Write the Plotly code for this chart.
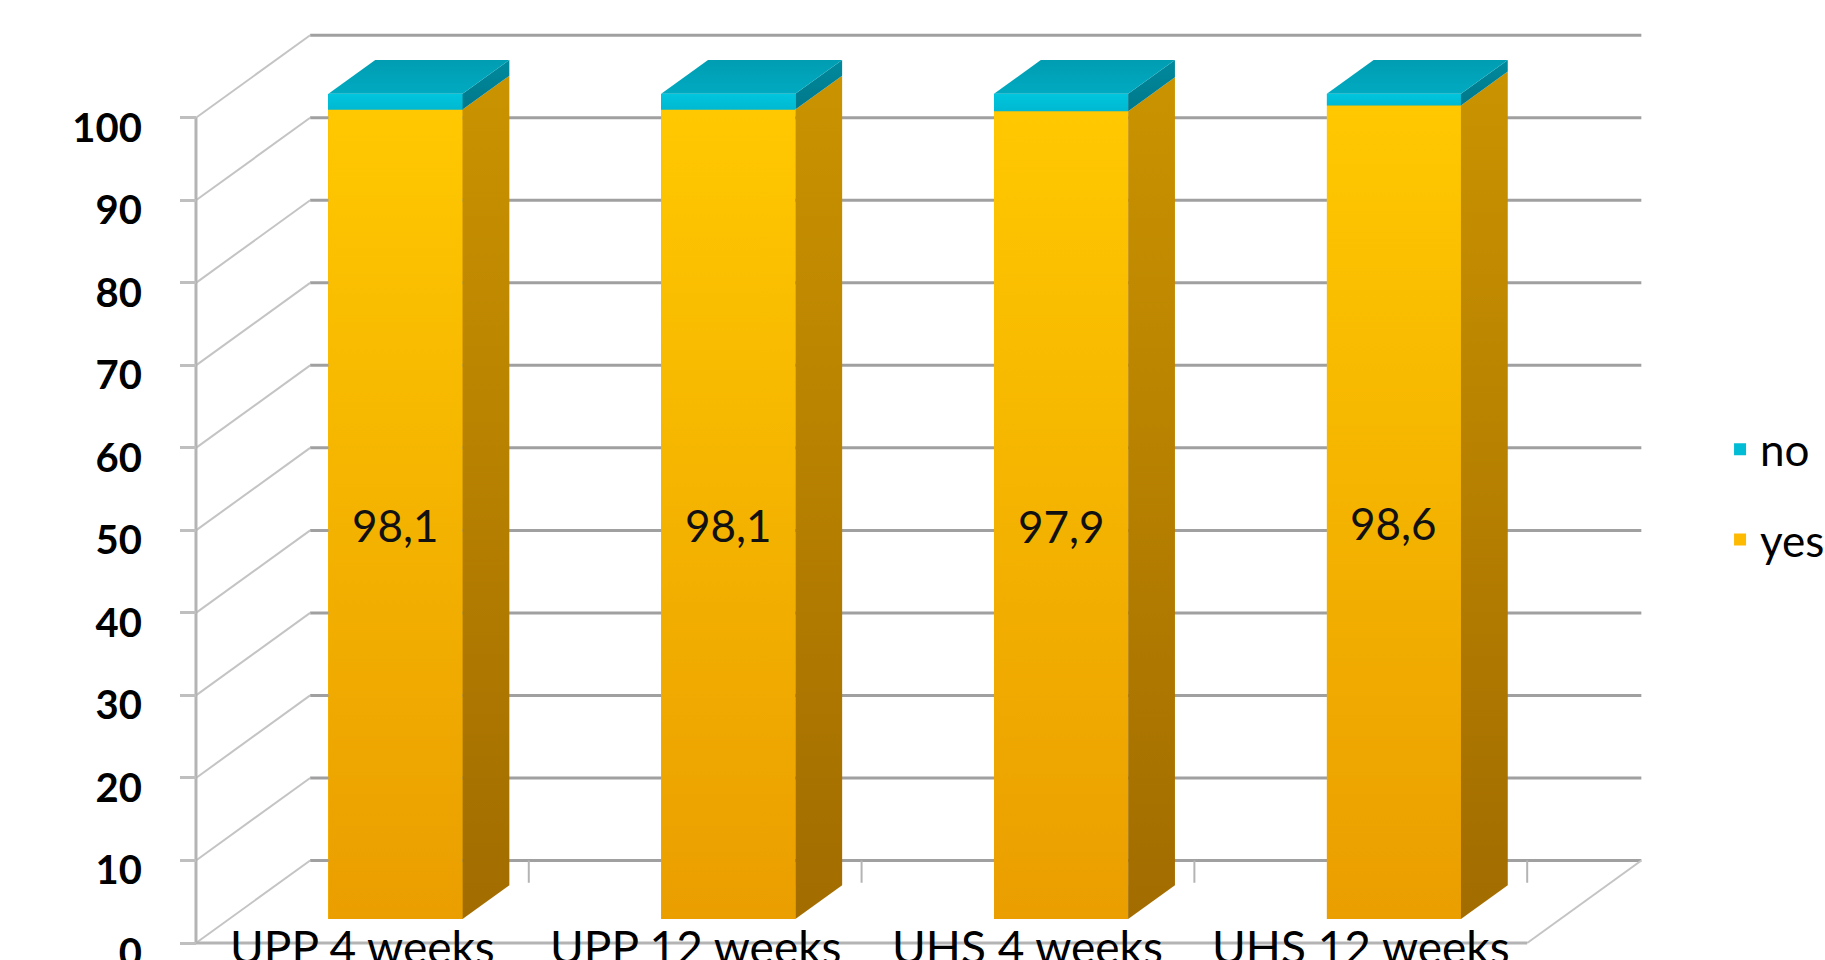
import plotly.graph_objects as go

# ---------------- data ----------------
categories = ["UPP 4 weeks", "UPP 12 weeks", "UHS 4 weeks", "UHS 12 weeks"]
yes_values = [98.1, 98.1, 97.9, 98.6]
no_values = [1.9, 1.9, 2.1, 1.4]
y_tick_values = [0, 10, 20, 30, 40, 50, 60, 70, 80, 90, 100]
y_tick_labels = ["0", "10", "20", "30", "40", "50", "60", "70", "80", "90", "100"]

# ---------------- 3D projection style ----------------
DEPTH_X = 0.343   # wall depth, category units
DEPTH_Y = 10.0    # wall depth, value units
BAR_W = 0.403     # bar width, category units
BAR_D0 = 0.29     # bar front position as fraction of depth
BAR_DD = 0.41     # bar depth as fraction of depth
X_MIN, X_MAX = -0.53, 3.86
Y_MIN, Y_MAX = -2.06, 111

n = len(categories)
x_idx = list(range(n))
x_left = -0.5
x_right = n - 0.5

fig = go.Figure()

# ---- bar traces (front faces, legend) ----
base_shift = BAR_D0 * DEPTH_Y
off = -BAR_W / 2 + BAR_D0 * DEPTH_X
fig.add_trace(go.Bar(
    x=x_idx, y=yes_values, base=[base_shift] * n, offset=off, width=BAR_W,
    name="yes", marker=dict(color="#FDBA00", line=dict(width=0)),
    legendgroup="yes", legendrank=2, hoverinfo="skip"))
fig.add_trace(go.Bar(
    x=x_idx, y=no_values, base=[base_shift + v for v in yes_values], offset=off, width=BAR_W,
    name="no", marker=dict(color="#00BCD4", line=dict(width=0)),
    legendgroup="no", legendrank=1, hoverinfo="skip"))

# ---- walls and floor ----
grid_x, grid_y = [], []
for v in y_tick_values:
    grid_x += [x_left + DEPTH_X, x_right + DEPTH_X, None]
    grid_y += [v + DEPTH_Y, v + DEPTH_Y, None]
fig.add_trace(go.Scatter(x=grid_x, y=grid_y, mode="lines",
                         line=dict(color="#A0A0A0", width=3),
                         showlegend=False, hoverinfo="skip"))

diag_x, diag_y = [], []
for v in y_tick_values:
    diag_x += [x_left, x_left + DEPTH_X, None]
    diag_y += [v, v + DEPTH_Y, None]
diag_x += [x_right, x_right + DEPTH_X, None]
diag_y += [0, DEPTH_Y, None]
fig.add_trace(go.Scatter(x=diag_x, y=diag_y, mode="lines",
                         line=dict(color="#C4C4C4", width=2),
                         showlegend=False, hoverinfo="skip"))

# front axis line and front floor edge
fig.add_trace(go.Scatter(x=[x_left, x_left, None, x_left, x_right],
                         y=[y_tick_values[0], y_tick_values[-1], None, 0, 0],
                         mode="lines", line=dict(color="#B4B4B4", width=3),
                         showlegend=False, hoverinfo="skip"))

# category divider ticks
tk_x, tk_y = [], []
for i in x_idx:
    tk_x += [i + 0.5, i + 0.5, None]
    tk_y += [DEPTH_Y, DEPTH_Y - 2.7, None]
fig.add_trace(go.Scatter(x=tk_x, y=tk_y, mode="lines",
                         line=dict(color="#B4B4B4", width=2),
                         showlegend=False, hoverinfo="skip"))


def poly(xs, ys, c_bottom, c_top):
    fig.add_trace(go.Scatter(
        x=xs + [xs[0]], y=ys + [ys[0]], mode="lines", fill="toself",
        line=dict(width=0, color=c_top),
        fillgradient=dict(type="vertical", colorscale=[[0, c_bottom], [1, c_top]]),
        showlegend=False, hoverinfo="skip"))


ddx = BAR_DD * DEPTH_X
ddy = BAR_DD * DEPTH_Y
for i in x_idx:
    xl = i - BAR_W / 2 + BAR_D0 * DEPTH_X
    xr = i + BAR_W / 2 + BAR_D0 * DEPTH_X
    y0 = base_shift
    y1 = base_shift + yes_values[i]
    y2 = y1 + no_values[i]
    # front faces
    poly([xl, xr, xr, xl], [y0, y0, y1, y1], "#EA9E00", "#FFC800")
    poly([xl, xr, xr, xl], [y1, y1, y2, y2], "#00B8D1", "#00C6DE")
    # side faces
    poly([xr, xr + ddx, xr + ddx, xr], [y0, y0 + ddy, y1 + ddy, y1], "#A26C00", "#CA9300")
    poly([xr, xr + ddx, xr + ddx, xr], [y1, y1 + ddy, y2 + ddy, y2], "#00788A", "#008A9E")
    # top face
    poly([xl, xr, xr + ddx, xl + ddx], [y2, y2, y2 + ddy, y2 + ddy], "#00AAC1", "#009DB2")

# ---- annotations: data labels and category labels ----
annotations = []
for i in x_idx:
    annotations.append(dict(
        x=i + BAR_D0 * DEPTH_X, y=base_shift + yes_values[i] / 2,
        text=f"{yes_values[i]:.1f}".replace(".", ","), showarrow=False,
        font=dict(family="Lato", size=44, color="#111111"),
        xanchor="center", yanchor="middle", yshift=-11))
    annotations.append(dict(
        x=i, y=0, text=categories[i], showarrow=False,
        font=dict(family="Lato", size=46, color="#000000"),
        xanchor="center", yanchor="middle", yshift=-3))

plot_w_units = X_MAX - X_MIN
fig.update_layout(
    width=1825, height=960,
    margin=dict(l=186, r=178, t=27, b=0, autoexpand=False),
    paper_bgcolor="white", plot_bgcolor="white",
    barmode="overlay", bargap=0,
    xaxis=dict(range=[X_MIN, X_MAX], showgrid=False, zeroline=False,
               showticklabels=False, ticks="", showline=False, fixedrange=True),
    yaxis=dict(range=[Y_MIN, Y_MAX], showgrid=False, zeroline=False, showline=False,
               anchor="free", position=(x_left - X_MIN) / plot_w_units,
               ticks="outside", ticklen=16, tickwidth=3, tickcolor="#BFBFBF",
               tickvals=y_tick_values, ticktext=y_tick_labels,
               tickfont=dict(family="Lato", size=40, color="#000000", weight="bold"),
               ticklabelstandoff=30, ticklabelshift=10, ticklabeloverflow="allow",
               fixedrange=True),
    legend=dict(x=1.05, xanchor="left", y=0.585, yanchor="top",
                traceorder="grouped", tracegroupgap=30,
                font=dict(family="Lato", size=44, color="#000000"),
                bgcolor="rgba(0,0,0,0)", borderwidth=0),
    annotations=annotations,
    showlegend=True,
)

fig.write_html("out.html")
